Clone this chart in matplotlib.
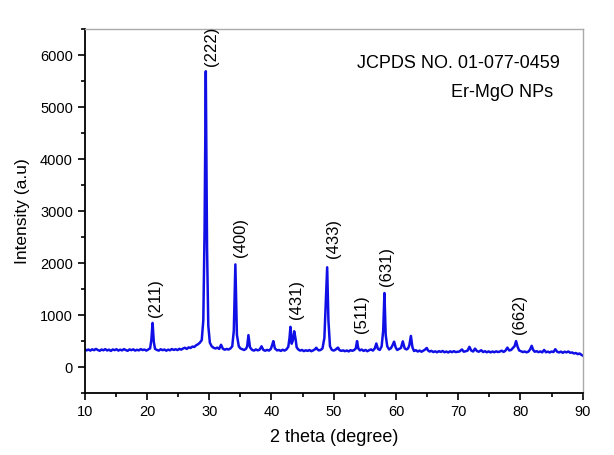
import matplotlib
matplotlib.use("Agg")
import matplotlib.pyplot as plt
from matplotlib.ticker import MultipleLocator

plt.rcParams['font.family'] = ['Liberation Sans', 'DejaVu Sans']

two_theta = [
    10.0, 10.3, 10.6, 10.9, 11.2, 11.5, 11.8, 12.1, 12.4, 12.7, 13.0, 13.3, 13.6, 13.9,
    14.2, 14.5, 14.8, 15.1, 15.4, 15.7, 16.0, 16.3, 16.6, 16.9, 17.2, 17.5, 17.8, 18.1,
    18.4, 18.7, 19.0, 19.3, 19.6, 19.9, 20.2, 20.5, 20.7, 20.9, 21.1, 21.3, 21.6, 21.9,
    22.2, 22.5, 22.8, 23.1, 23.4, 23.7, 24.0, 24.3, 24.6, 24.9, 25.2, 25.5, 25.8, 26.1,
    26.4, 26.7, 27.0, 27.3, 27.6, 27.9, 28.2, 28.5, 28.8, 29.05, 29.25, 29.45, 29.65,
    29.85, 30.1, 30.4, 30.7, 31.0, 31.3, 31.6, 31.9, 32.2, 32.5, 32.8, 33.1, 33.4, 33.7,
    33.95, 34.2, 34.45, 34.75, 35.0, 35.3, 35.6, 35.9, 36.1, 36.3, 36.55, 36.9, 37.2,
    37.5, 37.8, 38.1, 38.4, 38.7, 39.0, 39.3, 39.6, 39.9, 40.1, 40.3, 40.55, 40.9, 41.2,
    41.5, 41.8, 42.1, 42.4, 42.7, 42.9, 43.05, 43.25, 43.45, 43.65, 43.85, 44.05, 44.3,
    44.6, 44.9, 45.2, 45.5, 45.8, 46.1, 46.4, 46.7, 47.0, 47.2, 47.4, 47.6, 47.9, 48.2,
    48.5, 48.75, 48.95, 49.15, 49.4, 49.7, 50.0, 50.3, 50.5, 50.7, 50.9, 51.2, 51.5,
    51.8, 52.1, 52.4, 52.7, 53.0, 53.3, 53.55, 53.75, 53.95, 54.2, 54.5, 54.8, 55.1,
    55.4, 55.7, 56.0, 56.3, 56.6, 56.85, 57.1, 57.4, 57.7, 57.95, 58.15, 58.35, 58.6,
    58.9, 59.2, 59.45, 59.7, 59.95, 60.2, 60.5, 60.8, 61.1, 61.4, 61.7, 61.95, 62.15,
    62.4, 62.65, 62.9, 63.2, 63.5, 63.8, 64.1, 64.4, 64.7, 64.95, 65.15, 65.4, 65.7,
    66.0, 66.3, 66.6, 66.9, 67.2, 67.5, 67.8, 68.1, 68.4, 68.7, 69.0, 69.3, 69.6, 69.9,
    70.2, 70.6, 70.9, 71.2, 71.5, 71.8, 72.1, 72.4, 72.7, 73.0, 73.3, 73.7, 74.0, 74.3,
    74.6, 74.9, 75.2, 75.5, 75.8, 76.1, 76.4, 76.7, 77.0, 77.3, 77.6, 77.9, 78.2, 78.5,
    78.8, 79.05, 79.3, 79.55, 79.8, 80.1, 80.4, 80.7, 81.0, 81.3, 81.55, 81.8, 82.05,
    82.3, 82.6, 82.9, 83.2, 83.5, 83.8, 84.1, 84.4, 84.7, 85.0, 85.3, 85.6, 85.9, 86.2,
    86.5, 86.8, 87.1, 87.4, 87.7, 88.0, 88.3, 88.6, 88.9, 89.2, 89.5, 89.8, 90.0,
]

intensity = [
    345, 322, 338, 318, 342, 326, 350, 330, 314, 338, 324, 346, 320, 336,
    312, 340, 326, 344, 318, 336, 322, 346, 328, 314, 340, 326, 342, 318,
    334, 322, 346, 328, 338, 318, 340, 360, 520, 850, 480, 350, 330, 318,
    344, 326, 338, 316, 336, 324, 348, 330, 344, 328, 352, 336, 358, 372,
    350, 380, 368, 395, 388, 420, 440, 470, 520, 900, 2600, 5690, 2300,
    800, 470, 400, 372, 358, 375, 350, 430, 352, 335, 350, 338, 358, 400,
    700, 1975, 620, 400, 360, 345, 330, 350, 400, 615, 380, 330, 318,
    340, 322, 336, 400, 330, 315, 332, 318, 350, 420, 500, 360, 322, 330,
    312, 334, 318, 340, 390, 560, 775, 450, 520, 690, 560, 380, 340,
    318, 330, 308, 324, 312, 328, 306, 322, 345, 372, 340, 322, 330, 360,
    560, 1300, 1920, 900, 400, 332, 318, 336, 360, 375, 330, 312, 322,
    306, 320, 302, 326, 314, 330, 360, 500, 360, 322, 338, 312, 330,
    306, 326, 340, 318, 360, 455, 350, 330, 400, 700, 1425, 620, 400,
    340, 365, 420, 490, 380, 330, 350, 368, 495, 360, 340, 360, 420,
    600, 380, 310, 325, 300, 318, 296, 316, 340, 368, 322, 300, 312,
    290, 304, 286, 306, 292, 310, 286, 300, 282, 304, 288, 306, 290, 296,
    300, 340, 296, 306, 316, 390, 318, 300, 356, 310, 296, 325, 290, 306,
    286, 302, 284, 300, 286, 304, 290, 300, 316, 292, 318, 375, 320, 330,
    370, 400, 500, 390, 320, 306, 290, 300, 284, 300, 340, 410, 330,
    296, 306, 288, 302, 284, 330, 286, 298, 282, 300, 290, 344, 296, 282,
    298, 276, 296, 284, 300, 276, 282, 262, 272, 250, 262, 236, 222,
]

peak_labels = ['(211)', '(222)', '(400)', '(431)', '(433)', '(511)', '(631)', '(662)']
label_x = [21.4, 30.4, 35.1, 44.0, 49.9, 54.5, 58.5, 79.9]
label_y = [960, 5800, 2120, 920, 2090, 660, 1560, 630]

fig = plt.figure(figsize=(6.14, 4.55), dpi=100)
ax = fig.add_axes([0.138, 0.136, 0.811, 0.80])

ax.plot(two_theta, intensity, color='#1010e6', linewidth=1.8)

for lab, lx, ly in zip(peak_labels, label_x, label_y):
    ax.text(lx, ly, lab, rotation=90, ha='center', va='bottom', fontsize=12)

ax.text(0.955, 0.93, 'JCPDS NO. 01-077-0459', transform=ax.transAxes,
        ha='right', va='top', fontsize=13)
ax.text(0.94, 0.85, 'Er-MgO NPs', transform=ax.transAxes,
        ha='right', va='top', fontsize=13)

ax.set_xlim(10, 90)
ax.set_ylim(-500, 6500)
ax.xaxis.set_major_locator(MultipleLocator(10))
ax.xaxis.set_minor_locator(MultipleLocator(5))
ax.yaxis.set_major_locator(MultipleLocator(1000))
ax.yaxis.set_minor_locator(MultipleLocator(500))

ax.tick_params(axis='both', which='major', direction='out', length=5, width=1.2,
               labelsize=10.5, top=False, right=False)
ax.tick_params(axis='both', which='minor', direction='out', length=3, width=1.2,
               top=False, right=False)

for s in ['left', 'bottom']:
    ax.spines[s].set_color('black')
    ax.spines[s].set_linewidth(1.3)
for s in ['top', 'right']:
    ax.spines[s].set_color('#aaaaaa')
    ax.spines[s].set_linewidth(1.0)

ax.set_xlabel('2 theta (degree)', fontsize=13, labelpad=7)
ax.set_ylabel('Intensity (a.u)', fontsize=12.5, labelpad=7)

fig.savefig('out.png', dpi=100, facecolor='white')
